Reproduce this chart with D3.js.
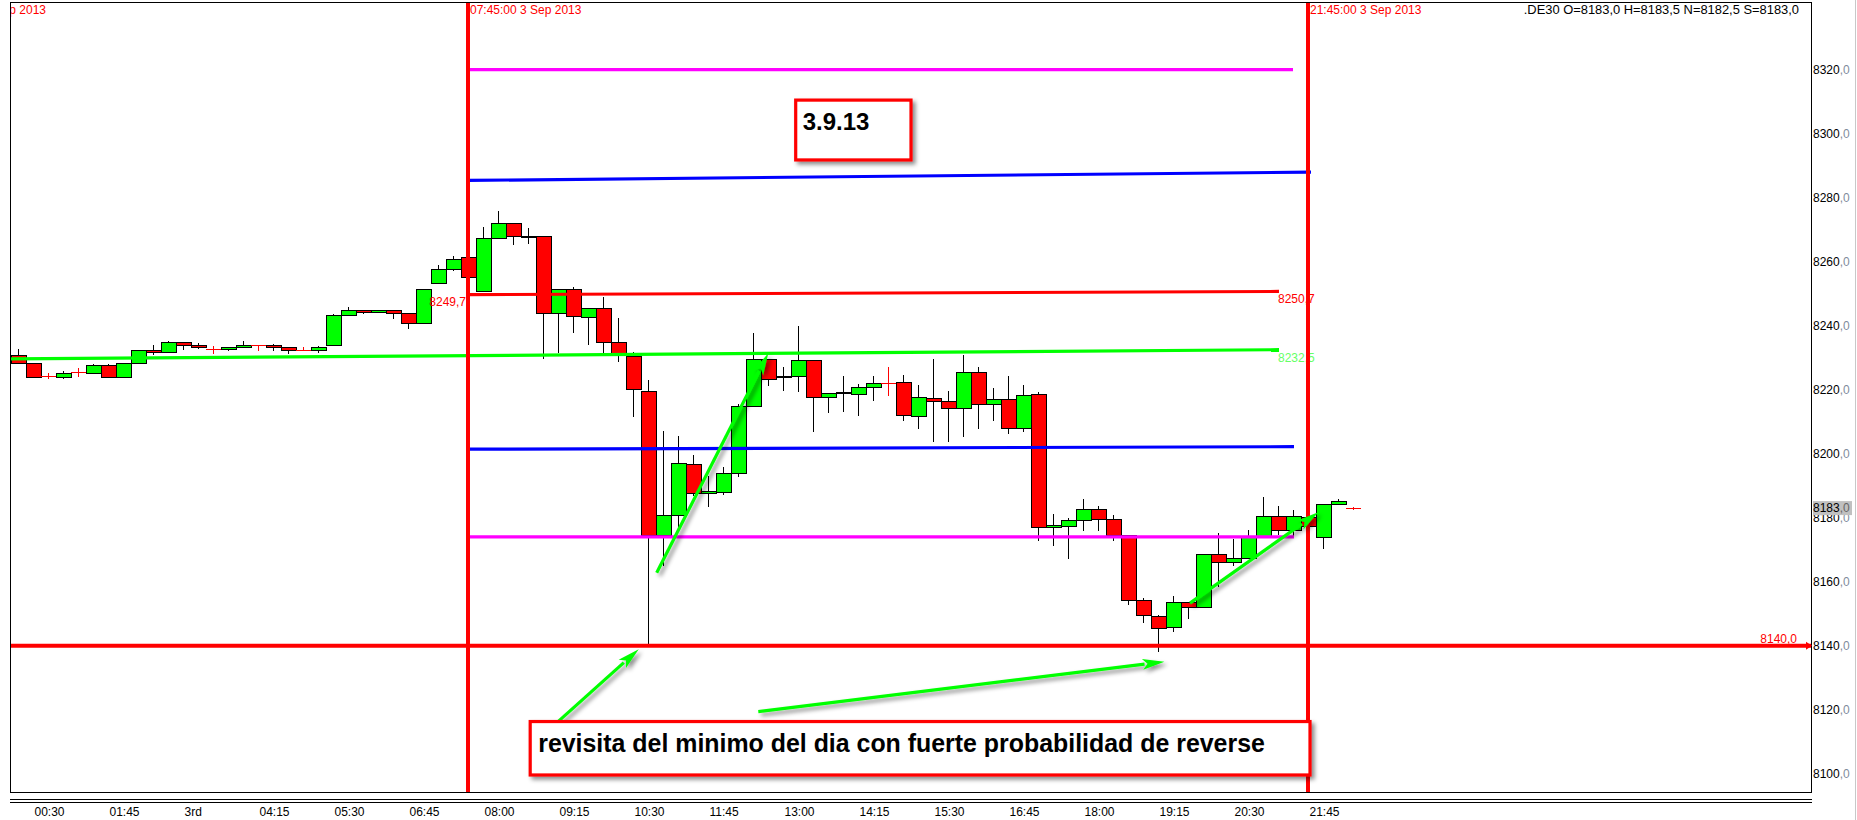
<!DOCTYPE html>
<html>
<head>
<meta charset="utf-8">
<script src="https://cdn.jsdelivr.net/npm/d3@7"></script>
<style>
  html, body { margin: 0; padding: 0; background: #fff; overflow: hidden; }
  svg { display: block; font-family: "Liberation Sans", Arial, sans-serif; }
</style>
</head>
<body>
<svg id="chart" width="1857" height="820"></svg>
<script>
// ---- DE30, 15-minute bars, 3 Sep 2013 ----
const barTimes = ["00:15","00:30","00:45","01:00","01:15","01:30","01:45","02:00","02:15","02:30",
  "02:45","03:00","03:15","03:30","03:45","04:00","04:15","04:30","04:45","05:00",
  "05:15","05:30","05:45","06:00","06:15","06:30","06:45","07:00","07:15","07:30",
  "07:45","08:00","08:15","08:30","08:45","09:00","09:15","09:30","09:45","10:00",
  "10:15","10:30","10:45","11:00","11:15","11:30","11:45","12:00","12:15","12:30",
  "12:45","13:00","13:15","13:30","13:45","14:00","14:15","14:30","14:45","15:00",
  "15:15","15:30","15:45","16:00","16:15","16:30","16:45","17:00","17:15","17:30",
  "17:45","18:00","18:15","18:30","18:45","19:00","19:15","19:30","19:45","20:00",
  "20:15","20:30","20:45","21:00","21:15","21:30","21:45","22:00","22:15","22:30"];

const opens = [8231.0,8228.5,8224.3,8224.1,8225.4,8225.3,8227.6,8224.1,8228.5,8232.3,
  8231.7,8234.8,8233.9,8232.6,8232.6,8233.3,8233.9,8233.9,8233.3,8232.3,
  8232.3,8233.9,8243.2,8244.8,8244.2,8244.8,8243.9,8240.7,8253.2,8257.6,
  8261.4,8250.7,8267.3,8272.0,8268.1,8268.1,8243.9,8251.6,8242.8,8245.4,
  8235.0,8230.6,8219.6,8174.6,8180.8,8196.7,8187.6,8188.1,8193.9,8215.0,
  8229.5,8224.3,8224.3,8229.2,8217.8,8219.2,8218.6,8220.7,8222.0,8222.3,
  8211.7,8217.3,8216.4,8214.2,8225.4,8215.4,8217.0,8207.9,8218.6,8177.0,
  8177.3,8179.2,8182.6,8179.5,8174.7,8154.3,8149.3,8145.7,8153.8,8152.2,
  8168.6,8166.3,8167.5,8174.1,8180.6,8176.2,8180.1,8173.9,8184.2,8183.0];

const highs = [8232.7,8228.5,8225.1,8225.8,8226.7,8228.1,8228.1,8228.5,8232.5,8234.0,
  8235.2,8235.0,8234.7,8233.8,8233.5,8235.2,8233.9,8234.3,8233.5,8233.3,
  8233.8,8243.8,8245.8,8244.8,8244.8,8244.8,8243.9,8251.4,8259.0,8261.8,
  8261.4,8270.7,8275.8,8272.0,8270.4,8268.1,8251.6,8252.0,8245.4,8248.9,
  8242.3,8231.7,8223.0,8207.2,8205.5,8199.6,8193.0,8196.0,8215.4,8237.6,
  8229.5,8227.2,8239.9,8229.2,8219.0,8224.3,8221.8,8224.3,8227.0,8224.6,
  8221.5,8229.6,8219.6,8231.0,8227.2,8220.4,8224.3,8221.5,8219.4,8181.2,
  8179.8,8185.7,8183.8,8180.7,8174.7,8154.9,8149.5,8155.5,8153.8,8168.6,
  8175.3,8173.2,8176.2,8186.4,8183.7,8182.5,8180.6,8184.2,8185.8,8183.5];

const lows = [8228.5,8224.1,8223.5,8223.3,8224.1,8225.3,8224.1,8224.1,8228.2,8230.8,
  8231.7,8232.5,8232.7,8231.3,8232.2,8233.3,8232.2,8232.2,8231.3,8232.3,
  8231.6,8233.9,8243.2,8243.8,8243.9,8242.2,8239.1,8240.7,8253.2,8257.2,
  8255.3,8250.7,8267.3,8265.2,8265.5,8229.6,8231.6,8237.8,8234.0,8231.6,
  8228.8,8211.6,8140.5,8164.9,8177.0,8186.8,8183.4,8187.1,8192.8,8215.0,
  8221.2,8219.7,8219.4,8206.9,8212.8,8213.1,8211.9,8216.6,8218.1,8210.3,
  8207.6,8203.8,8203.8,8205.3,8207.8,8210.3,8206.1,8206.9,8172.7,8171.3,
  8167.2,8176.0,8176.0,8172.8,8152.7,8147.0,8138.0,8144.4,8148.2,8152.2,
  8158.5,8165.0,8167.5,8174.1,8174.6,8173.6,8177.0,8170.1,8184.2,8182.5];

const closes = [8228.5,8224.1,8224.3,8225.2,8225.4,8227.6,8224.1,8228.5,8232.3,8231.7,
  8234.8,8233.9,8233.3,8232.6,8233.3,8234.0,8233.9,8233.3,8232.4,8232.3,
  8233.3,8243.2,8244.8,8244.2,8244.8,8243.9,8240.7,8251.4,8257.6,8260.7,
  8255.3,8267.3,8272.0,8268.0,8268.0,8243.9,8251.6,8243.0,8245.4,8235.0,
  8231.1,8220.1,8174.6,8180.8,8197.0,8187.6,8188.3,8193.9,8215.0,8229.5,
  8223.5,8224.2,8229.2,8217.8,8218.9,8219.1,8221.0,8222.0,8222.0,8212.0,
  8217.6,8216.4,8214.2,8225.4,8215.4,8217.0,8207.9,8218.2,8177.0,8177.6,
  8179.2,8182.6,8179.5,8174.7,8154.3,8149.5,8145.4,8153.8,8152.2,8168.6,
  8166.1,8167.5,8174.1,8180.6,8176.2,8180.6,8177.4,8184.2,8185.1,8183.0];

// axis ticks
const priceTicks = [8100, 8120, 8140, 8160, 8180, 8200, 8220, 8240, 8260, 8280, 8300, 8320];
const timeTicks = ["00:30","01:45","03:00","04:15","05:30","06:45","08:00","09:15","10:30",
  "11:45","13:00","14:15","15:30","16:45","18:00","19:15","20:30","21:45"];
const timeTickLabels = ["00:30","01:45","3rd","04:15","05:30","06:45","08:00","09:15","10:30",
  "11:45","13:00","14:15","15:30","16:45","18:00","19:15","20:30","21:45"];

// session markers (vertical lines)
const sessionTimes = ["07:45", "21:45"];
const sessionLabels = ["07:45:00 3 Sep 2013", "21:45:00 3 Sep 2013"];

// drawn levels: start/end time and price at each end
const levelNames   = ["r2", "r1", "open", "pivot", "s1", "s2"];
const levelStart   = ["07:45", "07:45", "07:45", "00:00", "07:45", "07:45"];
const levelEnd     = ["21:30", "21:48", "21:16", "21:16", "21:31", "21:31"];
const levelFrom    = [8320.0, 8285.4, 8249.7, 8229.6, 8201.4, 8174.0];
const levelTo      = [8320.0, 8288.0, 8250.7, 8232.5, 8202.2, 8174.0];
const levelColors  = ["#ff00ff", "#0000ff", "#ff0000", "#00ff00", "#0000ff", "#ff00ff"];

const dayLow = 8140.0;
const lastPrice = 8183.0;
const header = ".DE30 O=8183,0 H=8183,5 N=8182,5 S=8183,0";

// annotation arrows: [time (minutes), price] of tail and head
const arrowTails = [[653.7, 8162.8], [1187.0, 8153.3], [538.3, 8111.6], [755.3, 8119.4]];
const arrowHeads = [[765.3, 8231.4], [1315.3, 8181.7], [635.7, 8138.9], [1161.4, 8135.0]];

const noteTexts = ["3.9.13", "revisita del minimo del dia con fuerte probabilidad de reverse"];
const noteBoxes = [[792.7, 8310.5, 908.0, 8291.8], [527.2, 8116.3, 1307.0, 8099.6]];

// ---- scales ----
const toMin = s => (+s.slice(0, 2)) * 60 + (+s.slice(3, 5));
const x = d3.scaleLinear().domain([465, 1305]).range([468, 1308]);
const y = d3.scaleLinear().domain([8140, 8320]).range([645.7, 69.7]);
const barW = x(15) - x(0);

const frame = { left: 10, top: 2, right: 1811, bottom: 792 };

const svg = d3.select("#chart");
svg.append("rect").attr("width", 1857).attr("height", 820).attr("fill", "#fff");

const defs = svg.append("defs");
defs.append("clipPath").attr("id", "plotClip")
  .append("rect").attr("x", frame.left).attr("y", frame.top)
  .attr("width", frame.right - frame.left).attr("height", frame.bottom - frame.top);
const f = defs.append("filter").attr("id", "shadow")
  .attr("x", "-20%").attr("y", "-30%").attr("width", "150%").attr("height", "180%");
f.append("feDropShadow").attr("dx", 3).attr("dy", 3).attr("stdDeviation", 2)
  .attr("flood-color", "#000").attr("flood-opacity", 0.45);

const plot = svg.append("g").attr("clip-path", "url(#plotClip)");

// ---- candles ----
const bars = barTimes.map((t, i) => ({
  m: toMin(t), o: opens[i], h: highs[i], l: lows[i], c: closes[i]
}));

const candleG = plot.append("g").attr("shape-rendering", "crispEdges");
bars.forEach(b => {
  const cx = Math.round(x(b.m));
  if (b.o === b.c) {
    // doji: red cross
    candleG.append("line").attr("x1", cx + 0.5).attr("x2", cx + 0.5)
      .attr("y1", y(b.h)).attr("y2", y(b.l)).attr("stroke", "#ff0000").attr("stroke-width", 1);
    candleG.append("line").attr("x1", cx - barW / 2).attr("x2", cx + barW / 2)
      .attr("y1", Math.round(y(b.o)) + 0.5).attr("y2", Math.round(y(b.o)) + 0.5)
      .attr("stroke", "#ff0000").attr("stroke-width", 1);
    return;
  }
  candleG.append("line").attr("x1", cx + 0.5).attr("x2", cx + 0.5)
    .attr("y1", y(b.h)).attr("y2", y(b.l)).attr("stroke", "#000").attr("stroke-width", 1);
  const top = y(Math.max(b.o, b.c)), bot = y(Math.min(b.o, b.c));
  candleG.append("rect")
    .attr("x", cx - 7 + 0.5).attr("y", Math.round(top) + 0.5)
    .attr("width", 15).attr("height", Math.max(1, Math.round(bot) - Math.round(top)))
    .attr("fill", b.c > b.o ? "#00ff00" : "#ff0000")
    .attr("stroke", "#000").attr("stroke-width", 1.3);
});

// ---- level lines ----
levelNames.forEach((n, i) => {
  plot.append("line")
    .attr("x1", x(toMin(levelStart[i]))).attr("x2", x(toMin(levelEnd[i])))
    .attr("y1", y(levelFrom[i])).attr("y2", y(levelTo[i]))
    .attr("stroke", levelColors[i]).attr("stroke-width", 3.2);
});

// day-low line across the whole pane
plot.append("line").attr("x1", frame.left).attr("x2", frame.right)
  .attr("y1", y(dayLow)).attr("y2", y(dayLow))
  .attr("stroke", "#ff0000").attr("stroke-width", 4);

const fmt = v => d3.format(".1f")(v).replace(".", ",");

// level value labels
const iOpen = levelNames.indexOf("open"), iPiv = levelNames.indexOf("pivot");
plot.append("text").attr("x", x(toMin(levelStart[iOpen])) - 2).attr("y", y(levelFrom[iOpen]) + 11.5)
  .attr("text-anchor", "end").attr("font-size", 12).attr("fill", "#ff0000").text(fmt(levelFrom[iOpen]));
plot.append("text").attr("x", x(toMin(levelEnd[iOpen])) - 1).attr("y", y(levelTo[iOpen]) + 11.5)
  .attr("font-size", 12).attr("fill", "#ff0000").text(fmt(levelTo[iOpen]));
plot.append("text").attr("x", x(toMin(levelEnd[iPiv])) - 1).attr("y", y(levelTo[iPiv]) + 12)
  .attr("font-size", 12).attr("fill", "#66ff66").text(fmt(levelTo[iPiv]));
plot.append("text").attr("x", 1797).attr("y", y(dayLow) - 3)
  .attr("text-anchor", "end").attr("font-size", 12).attr("fill", "#ff0000").text(fmt(dayLow));

// ---- session lines ----
sessionTimes.forEach((t, i) => {
  const sx = x(toMin(t));
  plot.append("line").attr("x1", sx).attr("x2", sx).attr("y1", frame.top).attr("y2", frame.bottom)
    .attr("stroke", "#ff0000").attr("stroke-width", 4);
  plot.append("text").attr("x", sx + 2).attr("y", 14).attr("font-size", 12)
    .attr("fill", "#ff0000").text(sessionLabels[i]);
});
// previous session label, cut by the pane edge
plot.append("text").attr("x", 46).attr("y", 14).attr("font-size", 12)
  .attr("text-anchor", "end").attr("fill", "#ff0000").text("21:45:00 2 Sep 2013");

// header
svg.append("text").attr("x", 1799).attr("y", 14).attr("font-size", 12.9)
  .attr("text-anchor", "end").attr("fill", "#000").text(header);

// ---- annotations ----
const annG = svg.append("g").attr("clip-path", "url(#plotClip)");
arrowTails.forEach((tl, i) => {
  const hd = arrowHeads[i];
  const x0 = x(tl[0]), y0 = y(tl[1]), x1 = x(hd[0]), y1 = y(hd[1]);
  const dx = x1 - x0, dy = y1 - y0, len = Math.hypot(dx, dy);
  const ux = dx / len, uy = dy / len, hl = 22, hw = 5.5;
  const bx = x1 - ux * hl, by = y1 - uy * hl;
  const g = annG.append("g").attr("filter", "url(#shadow)");
  g.append("line").attr("x1", x0).attr("y1", y0).attr("x2", bx + ux * 2).attr("y2", by + uy * 2)
    .attr("stroke", "#00ff00").attr("stroke-width", 3.2);
  g.append("path")
    .attr("d", `M${x1},${y1}L${bx - uy * hw},${by + ux * hw}L${bx + ux * 5},${by + uy * 5}L${bx + uy * hw},${by - ux * hw}Z`)
    .attr("fill", "#00ff00");
});

noteBoxes.forEach((bx, i) => {
  const x0 = x(bx[0]), y0 = y(bx[1]), x1 = x(bx[2]), y1 = y(bx[3]);
  annG.append("rect").attr("x", x0).attr("y", y0).attr("width", x1 - x0).attr("height", y1 - y0)
    .attr("fill", "#fff").attr("stroke", "#ff0000").attr("stroke-width", 3.2)
    .attr("filter", "url(#shadow)");
});
annG.append("text").attr("x", x(noteBoxes[0][0]) + 7).attr("y", y(noteBoxes[0][1]) + 29.5)
  .attr("font-size", 24).attr("font-weight", "bold").attr("fill", "#000").text(noteTexts[0]);
const longNote = annG.append("text").attr("x", x(noteBoxes[1][0]) + 8).attr("y", y(noteBoxes[1][1]) + 30)
  .attr("font-size", 25).attr("font-weight", "bold").attr("fill", "#000").text(noteTexts[1]);
const w = longNote.node().getComputedTextLength();
if (w > 0) longNote.attr("font-size", 25 * 727 / w);

// ---- frame ----
svg.append("rect").attr("x", frame.left + 0.5).attr("y", frame.top + 0.5)
  .attr("width", frame.right - frame.left).attr("height", frame.bottom - frame.top)
  .attr("fill", "none").attr("stroke", "#000").attr("stroke-width", 1.2)
  .attr("shape-rendering", "crispEdges");
[799.5, 802.5].forEach(yy => {
  svg.append("line").attr("x1", frame.left).attr("x2", frame.right + 1)
    .attr("y1", yy).attr("y2", yy).attr("stroke", "#000").attr("stroke-width", 1.2)
    .attr("shape-rendering", "crispEdges");
});
svg.append("line").attr("x1", 1855.5).attr("x2", 1855.5).attr("y1", 0).attr("y2", 820)
  .attr("stroke", "#c8c8c8").attr("stroke-width", 1);

// ---- price axis ----
const yAxis = svg.append("g").attr("transform", `translate(${frame.right},0)`)
  .call(d3.axisRight(y).tickValues(priceTicks).tickSize(0).tickPadding(2).tickFormat(""));
yAxis.select(".domain").remove();
yAxis.selectAll(".tick").each(function (d) {
  const t = d3.select(this).append("text").attr("x", 2).attr("dy", "0.35em")
    .attr("font-size", 12).attr("fill", "#000");
  t.append("tspan").text(d3.format("d")(d));
  t.append("tspan").attr("fill", "#7f8c9c").text(",0");
});
// last price marker
const lp = svg.append("g").attr("transform", `translate(${frame.right},${y(lastPrice)})`);
lp.append("rect").attr("x", 2).attr("y", -7).attr("width", 39).attr("height", 14).attr("fill", "#c0c0c0");
const lpt = lp.append("text").attr("x", 2).attr("dy", "0.35em").attr("font-size", 12).attr("fill", "#000");
lpt.append("tspan").text(d3.format("d")(lastPrice));
lpt.append("tspan").attr("fill", "#666").text(",0");
// day-low marker on the axis
svg.append("path")
  .attr("d", `M${frame.right - 5},${y(dayLow) - 4}L${frame.right + 1},${y(dayLow)}L${frame.right - 5},${y(dayLow) + 4}Z`)
  .attr("fill", "#ff0000");

// ---- time axis ----
const xAxis = svg.append("g").attr("transform", "translate(0,807)")
  .call(d3.axisBottom(x).tickValues(timeTicks.map(toMin)).tickSize(0).tickPadding(0)
    .tickFormat((d, i) => timeTickLabels[i]));
xAxis.select(".domain").remove();
xAxis.selectAll("text").attr("text-anchor", "start").attr("dx", 1)
  .attr("font-size", 12).attr("font-family", "'Liberation Sans', Arial, sans-serif").attr("fill", "#000");
</script>
</body>
</html>
